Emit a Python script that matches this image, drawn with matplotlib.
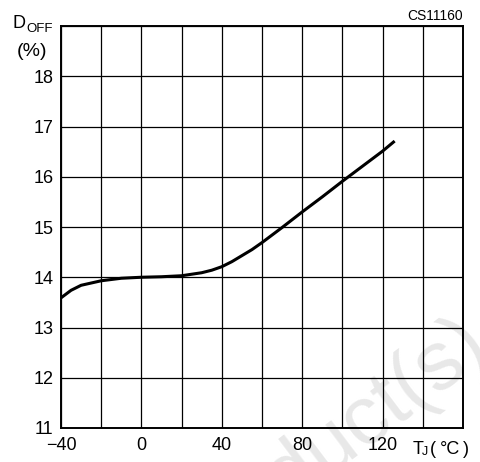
import matplotlib
matplotlib.use("Agg")
import matplotlib.pyplot as plt
import numpy as np

# datos
temp = [-40, -35, -30, -20, -10, 0, 10, 20, 30, 35, 40, 45, 50, 55, 60, 70, 80, 90, 100, 110, 120, 126]
doff = [13.59, 13.74, 13.84, 13.93, 13.98, 14.00, 14.01, 14.03, 14.09, 14.14, 14.21, 14.31,
        14.43, 14.55, 14.69, 14.99, 15.30, 15.60, 15.91, 16.21, 16.51, 16.71]

xticks = [-40, -20, 0, 20, 40, 60, 80, 100, 120, 140, 160]
xlabels = ["\u221240", "", "0", "", "40", "", "80", "", "120", "", ""]
yticks = [11, 12, 13, 14, 15, 16, 17, 18, 19]
ylabels = ["11", "12", "13", "14", "15", "16", "17", "18", ""]

plt.rcParams["font.family"] = ["Liberation Sans", "DejaVu Sans"]

fig = plt.figure(figsize=(4.8, 4.62), dpi=100)
ax = fig.add_axes([61 / 480, 34 / 462, 402 / 480, 402 / 462])
ax.set_facecolor("none")

# marca de agua (queda por debajo de todo)
fig.text(478 / 480, 1 - 332 / 462, "Product(s)", fontsize=60, color="#e8e8e8",
         rotation=37, rotation_mode="anchor", ha="right", va="center", zorder=-5)

ax.plot(temp, doff, color="black", lw=2.2, solid_capstyle="butt", zorder=3)

ax.set_xlim(-40, 160)
ax.set_ylim(11, 19)
ax.set_xticks(xticks)
ax.set_xticklabels(xlabels)
ax.set_yticks(yticks)
ax.set_yticklabels(ylabels)
ax.tick_params(length=0, labelsize=13, colors="black")
ax.tick_params(axis="x", pad=6.5)
ax.tick_params(axis="y", pad=5.5)
ax.grid(True, color="black", lw=0.9)
for s in ax.spines.values():
    s.set_linewidth(1.4)

# etiquetas de ejes
fig.text(13 / 480, 1 - 28 / 462, "D", fontsize=13, ha="left", va="baseline")
fig.text(26 / 480, 1 - 32 / 462, "OFF", fontsize=9.5, ha="left", va="baseline")
fig.text(32 / 480, 1 - 56 / 462, "(%)", fontsize=14, ha="center", va="baseline")

fig.text(413 / 480, 1 - 454 / 462, "T", fontsize=13, ha="left", va="baseline")
fig.text(422 / 480, 1 - 455 / 462, "J", fontsize=9, ha="left", va="baseline")
fig.text(430 / 480, 1 - 454 / 462, "(", fontsize=13, ha="left", va="baseline")
fig.text(440 / 480, 1 - 454 / 462, "\u00b0C", fontsize=13, ha="left", va="baseline")
fig.text(463 / 480, 1 - 454 / 462, ")", fontsize=13, ha="left", va="baseline")

fig.text(463 / 480, 1 - 20 / 462, "CS11160", fontsize=10, ha="right", va="baseline")

fig.savefig("out.png", dpi=100)
